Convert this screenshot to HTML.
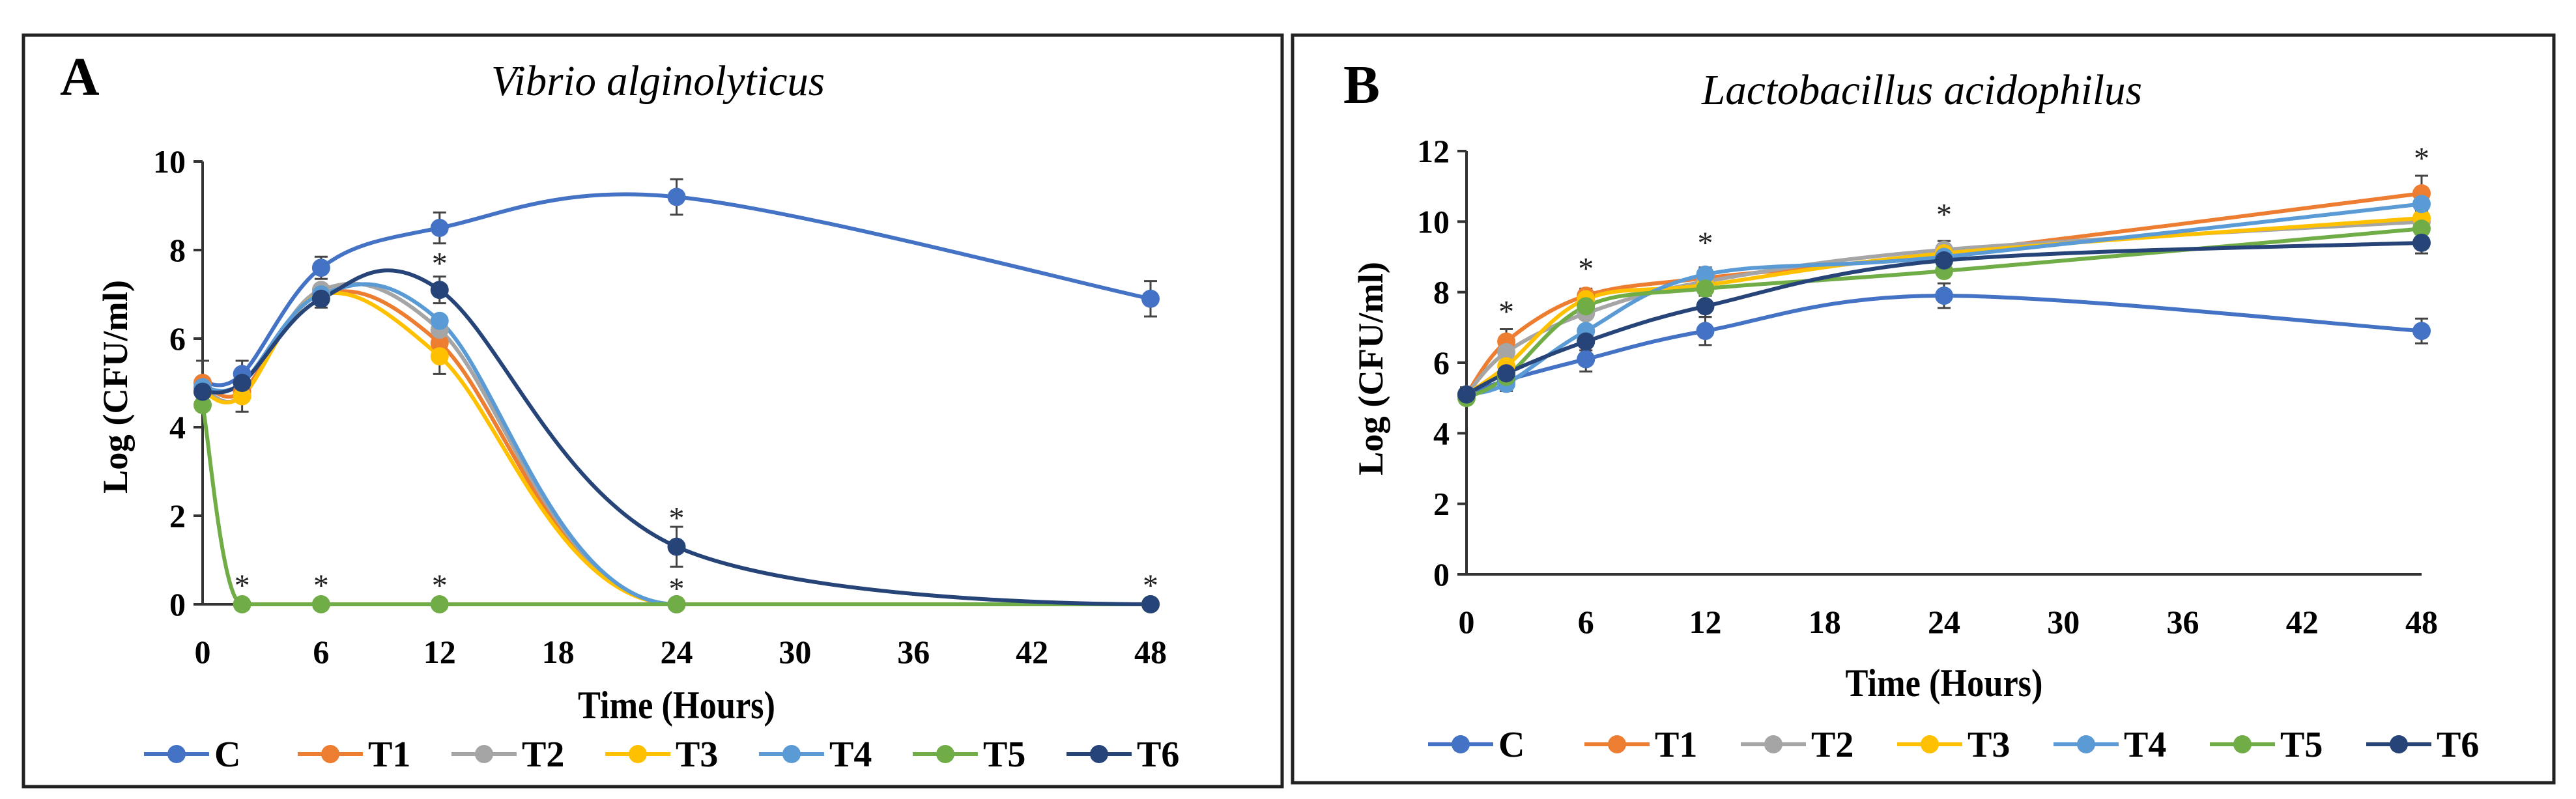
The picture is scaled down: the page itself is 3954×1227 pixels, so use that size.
<!DOCTYPE html>
<html><head><meta charset="utf-8">
<style>
html,body{margin:0;padding:0;background:#fff;}
svg{display:block;}
text{font-family:"Liberation Serif",serif;}
</style></head>
<body>
<svg id="fig" width="3954" height="1227" viewBox="0 0 3954 1227" xmlns="http://www.w3.org/2000/svg">
  <rect x="36" y="54" width="1932" height="1154" fill="#fff" stroke="#222" stroke-width="5"/>
  <rect x="1984" y="54" width="1936" height="1148" fill="#fff" stroke="#222" stroke-width="5"/>
  <text x="92" y="146" font-size="84" font-weight="bold">A</text>
  <text x="2062" y="158" font-size="84" font-weight="bold">B</text>
  <text x="1010" y="146" font-size="66" font-style="italic" text-anchor="middle" textLength="512" lengthAdjust="spacingAndGlyphs">Vibrio alginolyticus</text>
  <text x="2950" y="160" font-size="66" font-style="italic" text-anchor="middle" textLength="676" lengthAdjust="spacingAndGlyphs">Lactobacillus acidophilus</text>
  <g id="chartA"></g>
  <g id="chartB"></g>
</svg>
<script>
const hours = [0, 2, 6, 12, 24, 48];
const seriesNames = ["C", "T1", "T2", "T3", "T4", "T5", "T6"];
const seriesColors = ["#4472C4", "#ED7D31", "#A5A5A5", "#FFC000", "#5B9BD5", "#70AD47", "#264478"];
const xTicks = [0, 6, 12, 18, 24, 30, 36, 42, 48];
const yTicksA = [0, 2, 4, 6, 8, 10];
const yTicksB = [0, 2, 4, 6, 8, 10, 12];

const aC  = [5.0, 5.2, 7.6, 8.5, 9.2, 6.9];
const aT1 = [5.0, 4.8, 7.0, 5.9, 0, 0];
const aT2 = [4.9, 4.7, 7.1, 6.2, 0, 0];
const aT3 = [4.8, 4.7, 7.0, 5.6, 0, 0];
const aT4 = [4.9, 5.0, 7.0, 6.4, 0, 0];
const aT5 = [4.5, 0, 0, 0, 0, 0];
const aT6 = [4.8, 5.0, 6.9, 7.1, 1.3, 0];
const aErrC  = [0.5, 0.3, 0.25, 0.35, 0.4, 0.4];
const aErrT3 = [0.3, 0.35, 0.2, 0.4, 0, 0];
const aErrT6 = [0.3, 0.3, 0.2, 0.3, 0.45, 0];
const aStarX = [2, 6, 12, 12, 24, 24, 48];
const aStarY = [0.43, 0.43, 0.43, 7.7, 1.95, 0.35, 0.43];

const bC  = [5.1, 5.5, 6.1, 6.9, 7.9, 6.9];
const bT1 = [5.1, 6.6, 7.9, 8.4, 9.1, 10.8];
const bT2 = [5.1, 6.3, 7.4, 8.3, 9.2, 10.0];
const bT3 = [5.1, 5.9, 7.8, 8.2, 9.1, 10.1];
const bT4 = [5.1, 5.4, 6.9, 8.5, 9.0, 10.5];
const bT5 = [5.0, 5.6, 7.6, 8.1, 8.6, 9.8];
const bT6 = [5.1, 5.7, 6.6, 7.6, 8.9, 9.4];
const bErrC  = [0.2, 0.3, 0.35, 0.4, 0.35, 0.35];
const bErrT1 = [0.2, 0.35, 0.2, 0.3, 0.35, 0.5];
const bErrT6 = [0.2, 0.3, 0.25, 0.3, 0.3, 0.3];
const bStarX = [2, 6, 12, 24, 48];
const bStarY = [7.45, 8.67, 9.4, 10.2, 11.8];

const NS = "http://www.w3.org/2000/svg";
function mk(tag, attrs, parent) {
  const e = document.createElementNS(NS, tag);
  for (const k in attrs) e.setAttribute(k, attrs[k]);
  parent.appendChild(e);
  return e;
}
function smoothPath(pts, floorY) {
  let d = "M" + pts[0][0] + "," + pts[0][1];
  for (let i = 0; i < pts.length - 1; i++) {
    const p0 = pts[Math.max(0, i - 1)], p1 = pts[i], p2 = pts[i + 1], p3 = pts[Math.min(pts.length - 1, i + 2)];
    const c1x = p1[0] + (p2[0] - p0[0]) / 6;
    let c1y = p1[1] + (p2[1] - p0[1]) / 6;
    const c2x = p2[0] - (p3[0] - p1[0]) / 6;
    let c2y = p2[1] - (p3[1] - p1[1]) / 6;
    c1y = Math.min(c1y, floorY); c2y = Math.min(c2y, floorY);
    if (p2[1] >= floorY - 0.5) c2y = floorY;
    if (p1[1] >= floorY - 0.5) c1y = floorY;
    d += " C" + c1x + "," + c1y + " " + c2x + "," + c2y + " " + p2[0] + "," + p2[1];
  }
  return d;
}

function drawChart(g, cfg) {
  const X = h => cfg.x0 + (h / 48) * (cfg.x48 - cfg.x0);
  const Y = v => cfg.y0 - (v / cfg.yMax) * (cfg.y0 - cfg.yTop);
  const ya = mk("line", {x1: cfg.x0, y1: Y(0), x2: cfg.x0, y2: Y(cfg.yMax), stroke: "#333", "stroke-width": 4}, g);
  
  
  const xa = mk("line", {x1: cfg.x0 - 14, y1: Y(0), x2: cfg.x48, y2: Y(0), stroke: "#333", "stroke-width": 4}, g);
  
  
  cfg.yTicks.forEach(v => {
    const t = mk("line", {x1: cfg.x0 - 14, y1: Y(v), x2: cfg.x0, y2: Y(v), stroke: "#333", "stroke-width": 4}, g);
    
    
    const l = mk("text", {x: cfg.x0 - 26, y: Y(v) + 17, "font-size": 50, "font-weight": "bold", "text-anchor": "end"}, g);
    l.textContent = v;
    
    
  });
  xTicks.forEach(h => {
    const l = mk("text", {x: X(h), y: Y(0) + 90, "font-size": 50, "font-weight": "bold", "text-anchor": "middle"}, g);
    l.textContent = h;
    
    
  });
  const xt = mk("text", {x: (cfg.x0 + cfg.x48) / 2, y: cfg.xTitleY, "font-size": 60, "font-weight": "bold", "text-anchor": "middle", textLength: 303, lengthAdjust: "spacingAndGlyphs"}, g);
  xt.textContent = "Time (Hours)";
  
  
  const yt = mk("text", {x: 0, y: 0, "font-size": 54, "font-weight": "bold", "text-anchor": "middle", transform: "translate(" + cfg.yTitleX + "," + cfg.yTitleCY + ") rotate(-90)", textLength: 328, lengthAdjust: "spacingAndGlyphs"}, g);
  yt.textContent = "Log (CFU/ml)";
  
  

  cfg.errs.forEach(([si, arr]) => {
    const vals = cfg.series[si];
    arr.forEach((e, i) => {
      if (!e) return;
      const x = X(hours[i]);
      const eg = mk("path", {d: "M" + x + "," + Y(vals[i] - e) + "V" + Y(vals[i] + e) + "M" + (x - 10) + "," + Y(vals[i] - e) + "h20M" + (x - 10) + "," + Y(vals[i] + e) + "h20", stroke: "#444", "stroke-width": 3, fill: "none"}, g);
      
      
    });
  });
  cfg.series.forEach((vals, si) => {
    const pts = vals.map((v, i) => [X(hours[i]), Y(v)]);
    const p = mk("path", {d: smoothPath(pts, Y(0)), stroke: seriesColors[si], "stroke-width": 6, fill: "none"}, g);
    
    
  });
  cfg.series.forEach((vals, si) => {
    vals.forEach((v, i) => {
      const c = mk("circle", {cx: X(hours[i]), cy: Y(v), r: 14, fill: seriesColors[si]}, g);
      
      
    });
  });
  cfg.starX.forEach((h, i) => {
    const s = mk("text", {x: X(h), y: Y(cfg.starY[i]) + 16, "font-size": 48, "text-anchor": "middle", fill: "#222"}, g);
    s.textContent = "*";
    
    
  });
  seriesNames.forEach((n, si) => {
    const lx = cfg.legX + si * cfg.legStep;
    const lg = mk("g", {}, g);
    
    
    mk("line", {x1: lx, y1: cfg.legY, x2: lx + 100, y2: cfg.legY, stroke: seriesColors[si], "stroke-width": 6}, lg);
    mk("circle", {cx: lx + 50, cy: cfg.legY, r: 14, fill: seriesColors[si]}, lg);
    const t = mk("text", {x: lx + 108, y: cfg.legY + 19, "font-size": 56, "font-weight": "bold"}, lg);
    t.textContent = n;
  });
}

drawChart(document.getElementById("chartA"), {
  x0: 311, x48: 1766, y0: 928, yTop: 248, yMax: 10, yTicks: yTicksA,
  series: [aC, aT1, aT2, aT3, aT4, aT5, aT6],
  errs: [[0, aErrC], [3, aErrT3], [6, aErrT6]],
  starX: aStarX, starY: aStarY,
  xTitleY: 1103, yTitleX: 195, yTitleCY: 594,
  legX: 221, legY: 1158, legStep: 236
});
drawChart(document.getElementById("chartB"), {
  x0: 2251, x48: 3717, y0: 882, yTop: 232, yMax: 12, yTicks: yTicksB,
  series: [bC, bT1, bT2, bT3, bT4, bT5, bT6],
  errs: [[0, bErrC], [1, bErrT1], [6, bErrT6]],
  starX: bStarX, starY: bStarY,
  xTitleY: 1069, yTitleX: 2122, yTitleCY: 566,
  legX: 2192, legY: 1143, legStep: 240
});
</script>
</body></html>
